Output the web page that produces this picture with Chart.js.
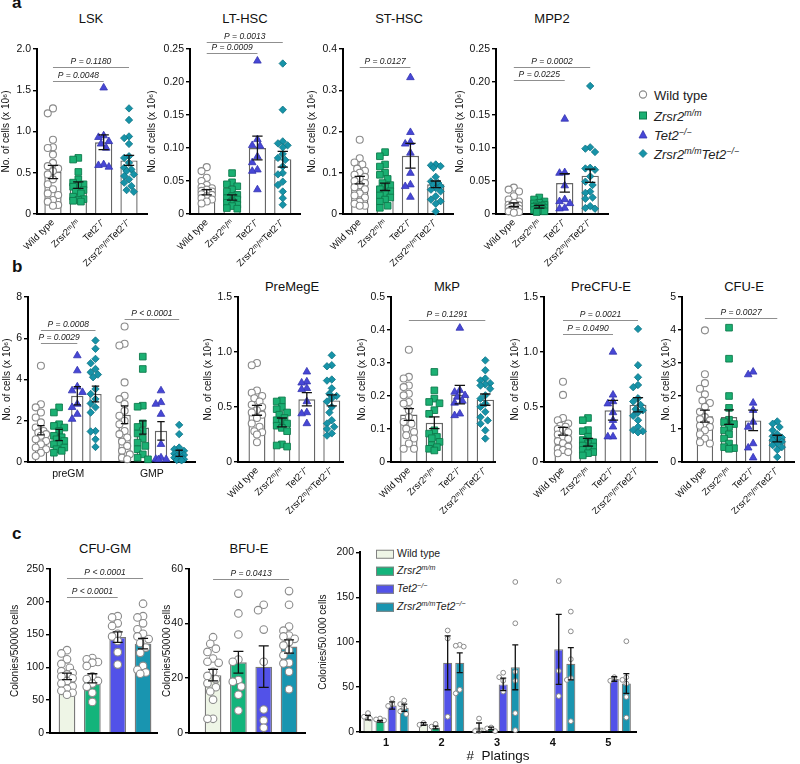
<!DOCTYPE html>
<html>
<head>
<meta charset="utf-8">
<title>Zrsr2 / Tet2 progenitor counts</title>
<script src="https://cdn.jsdelivr.net/npm/chart.js@4.4.1/dist/chart.umd.min.js"></script>
<style>
  html, body { margin: 0; padding: 0; background: #fff; }
  #page { position: relative; width: 800px; height: 764px; overflow: hidden;
          font-family: "Liberation Sans", Arial, sans-serif; color: #111; font-weight: 400; }
  .box { position: absolute; }
  .ttl { position: absolute; font-size: 13px; line-height: 1; white-space: nowrap;
         transform: translate(-50%, -50%); }
  .tag { position: absolute; font-size: 17px; font-weight: bold; line-height: 1; }
  .lg { position: absolute; font-size: 13px; line-height: 1; white-space: nowrap; transform: translateY(-50%);
        font-weight: 400; color: #222; }
  .lg svg { position: absolute; left: -16px; top: 1px; }
  .pl { position: absolute; font-size: 10.5px; line-height: 1; white-space: nowrap; transform: translateY(-50%);
        font-weight: 400; color: #222; }
  .pl span.sw { position: absolute; left: -21px; top: 2px; width: 16px; height: 7px; border: 1px solid #808080; }
  sup { font-size: 68%; line-height: 0; vertical-align: 0.5em; }
</style>
</head>
<body>
<div id="page">
  <div class="tag" style="left:12px;top:-6px">a</div>
  <div class="tag" style="left:12px;top:258px">b</div>
  <div class="tag" style="left:12px;top:525px">c</div>

  <div class="ttl" style="left:91px;top:18px">LSK</div>
  <div class="ttl" style="left:245px;top:18px">LT-HSC</div>
  <div class="ttl" style="left:399px;top:18px">ST-HSC</div>
  <div class="ttl" style="left:552px;top:18px">MPP2</div>

  <div class="ttl" style="left:292px;top:286px">PreMegE</div>
  <div class="ttl" style="left:447px;top:286px">MkP</div>
  <div class="ttl" style="left:601px;top:286px">PreCFU-E</div>
  <div class="ttl" style="left:744px;top:286px">CFU-E</div>

  <div class="ttl" style="left:105px;top:548px">CFU-GM</div>
  <div class="ttl" style="left:249px;top:548px">BFU-E</div>

  <div class="lg" style="left:654px;top:95px"><svg width="10" height="10"><circle cx="5" cy="5" r="3.6" fill="#fff" stroke="#8a8a8a" stroke-width="1.1"/></svg>Wild type</div>
  <div class="lg" style="left:654px;top:116px"><svg width="10" height="10"><rect x="1.5" y="1.5" width="7" height="7" fill="#1bb073" stroke="#0d7a4c"/></svg><i>Zrsr2<sup>m/m</sup></i></div>
  <div class="lg" style="left:654px;top:135px"><svg width="10" height="10"><polygon points="5,1 9,8.5 1,8.5" fill="#4747d6" stroke="#3535b0" stroke-width="0.8"/></svg><i>Tet2<sup>−/−</sup></i></div>
  <div class="lg" style="left:654px;top:154px"><svg width="10" height="10"><polygon points="5,1 9,5 5,9 1,5" fill="#1693a8" stroke="#0f7383" stroke-width="0.8"/></svg><i>Zrsr2<sup>m/m</sup>Tet2<sup>−/−</sup></i></div>

  <div class="pl" style="left:397px;top:553px"><span class="sw" style="background:#eef5e6"></span>Wild type</div>
  <div class="pl" style="left:397px;top:570px"><span class="sw" style="background:#13b47b"></span><i>Zrsr2<sup>m/m</sup></i></div>
  <div class="pl" style="left:397px;top:588px"><span class="sw" style="background:#5252e8"></span><i>Tet2<sup>−/−</sup></i></div>
  <div class="pl" style="left:397px;top:606px"><span class="sw" style="background:#1995b0"></span><i>Zrsr2<sup>m/m</sup>Tet2<sup>−/−</sup></i></div>
</div>

<script>
const FONT = '"Liberation Sans", Arial, sans-serif';

// ---- labels ----
const genotypes = ['Wild type', 'Zrsr2ᵐ/ᵐ', 'Tet2⁻/⁻', 'Zrsr2ᵐ/ᵐTet2⁻/⁻'];
const progenitorGroups = ['preGM', 'GMP'];
const platingLabels = ['1', '2', '3', '4', '5'];
const cellAxisTitle = 'No. of cells (x 10⁶)';
const colonyAxisTitle = 'Colonies/50000 cells';
const platingAxisTitle = 'Colonies/50.000 cells';
const platingXTitle = '#  Platings';

// ---- a: stem / multipotent progenitors (WT, Zrsr2, Tet2, Zrsr2Tet2) ----
const lskMean = [0.51, 0.35, 0.87, 0.65];
const lskSem = [0.08, 0.04, 0.09, 0.06];
const lskPts = [
  [1.28, 1.22, 0.90, 0.81, 0.80, 0.72, 0.62, 0.58, 0.55, 0.52, 0.48, 0.42, 0.36, 0.30, 0.25, 0.23, 0.17, 0.15, 0.11, 0.10],
  [0.68, 0.66, 0.51, 0.42, 0.38, 0.36, 0.34, 0.33, 0.29, 0.27, 0.25, 0.21, 0.18, 0.17, 0.16, 0.15],
  [1.53, 0.95, 0.93, 0.88, 0.85, 0.80, 0.60, 0.59, 0.57],
  [1.28, 1.14, 0.94, 0.92, 0.85, 0.70, 0.68, 0.62, 0.56, 0.54, 0.52, 0.48, 0.46, 0.42, 0.38, 0.34, 0.29, 0.27]
];
const lskP = [['P = 0.0048', 0, 2], ['P = 0.1180', 0, 3]];

const ltMean = [0.033, 0.025, 0.100, 0.083];
const ltSem = [0.004, 0.004, 0.018, 0.012];
const ltPts = [
  [0.071, 0.065, 0.055, 0.050, 0.044, 0.041, 0.039, 0.037, 0.035, 0.034, 0.032, 0.030, 0.029, 0.027, 0.024, 0.022, 0.019, 0.016],
  [0.062, 0.048, 0.045, 0.042, 0.037, 0.034, 0.029, 0.027, 0.024, 0.022, 0.019, 0.017, 0.014, 0.012, 0.009, 0.008],
  [0.232, 0.113, 0.104, 0.103, 0.087, 0.078, 0.067, 0.065, 0.037],
  [0.228, 0.158, 0.110, 0.107, 0.104, 0.101, 0.091, 0.085, 0.082, 0.072, 0.062, 0.060, 0.049, 0.044, 0.034, 0.024, 0.014]
];
const ltP = [['P = 0.0009', 0, 2], ['P = 0.0013', 0, 3]];

const stMean = [0.082, 0.066, 0.141, 0.072];
const stSem = [0.009, 0.009, 0.030, 0.008];
const stPts = [
  [0.18, 0.135, 0.125, 0.12, 0.11, 0.105, 0.10, 0.095, 0.09, 0.085, 0.08, 0.075, 0.07, 0.065, 0.06, 0.05, 0.045, 0.04, 0.03, 0.025, 0.02, 0.02],
  [0.15, 0.14, 0.12, 0.115, 0.10, 0.095, 0.085, 0.075, 0.07, 0.065, 0.06, 0.055, 0.05, 0.045, 0.04, 0.035, 0.03, 0.02, 0.015],
  [0.331, 0.198, 0.174, 0.170, 0.148, 0.099, 0.071, 0.067, 0.041],
  [0.12, 0.118, 0.116, 0.112, 0.09, 0.079, 0.075, 0.071, 0.067, 0.063, 0.059, 0.055, 0.043, 0.035, 0.031, 0.025, 0.006]
];
const stP = [['P = 0.0127', 0, 2]];

const mppMean = [0.014, 0.011, 0.047, 0.058];
const mppSem = [0.003, 0.002, 0.014, 0.010];
const mppPts = [
  [0.040, 0.037, 0.034, 0.027, 0.022, 0.019, 0.017, 0.014, 0.013, 0.012, 0.011, 0.010, 0.009, 0.008, 0.007, 0.006, 0.005, 0.004, 0.003, 0.002],
  [0.025, 0.022, 0.019, 0.017, 0.016, 0.014, 0.013, 0.012, 0.011, 0.010, 0.009, 0.008, 0.007, 0.006, 0.005, 0.004, 0.003],
  [0.144, 0.063, 0.062, 0.043, 0.022, 0.019, 0.016, 0.009, 0.008],
  [0.194, 0.101, 0.099, 0.094, 0.070, 0.069, 0.067, 0.057, 0.049, 0.044, 0.034, 0.032, 0.025, 0.023, 0.012, 0.009, 0.008]
];
const mppP = [['P = 0.0225', 0, 2], ['P = 0.0002', 0, 3]];

// ---- b: committed progenitors ----
const preGmMean = [1.54, 1.31, 3.21, 3.30];
const preGmSem = [0.22, 0.27, 0.44, 0.38];
const preGmPts = [
  [4.67, 2.80, 2.65, 2.40, 2.16, 1.92, 1.67, 1.50, 1.43, 1.35, 1.27, 1.10, 1.02, 0.86, 0.70, 0.62, 0.45, 0.29],
  [2.65, 2.40, 1.83, 1.75, 1.67, 1.50, 1.27, 1.20, 1.10, 1.02, 0.90, 0.86, 0.70, 0.62, 0.54, 0.45],
  [5.16, 4.43, 3.65, 3.46, 3.38, 2.81, 2.65, 2.32, 2.08],
  [5.89, 5.49, 5.00, 4.79, 4.51, 4.35, 4.24, 4.11, 3.54, 3.30, 3.05, 2.84, 2.65, 2.40, 1.50, 1.48, 1.10, 0.73]
];
const gmpMean = [2.29, 1.67, 1.51, 0.42];
const gmpSem = [0.43, 0.32, 0.45, 0.15];
const gmpPts = [
  [6.57, 5.73, 5.65, 3.86, 3.21, 3.05, 2.81, 2.48, 2.24, 2.00, 1.83, 1.50, 1.35, 1.19, 0.99, 0.78, 0.54, 0.37, 0.21, 0.13],
  [5.11, 4.51, 2.73, 2.68, 1.87, 1.70, 1.50, 1.38, 1.14, 0.94, 0.78, 0.62, 0.37, 0.21, 0.13],
  [3.46, 2.89, 2.81, 2.32, 0.86, 0.21, 0.14, 0.13, 0.12],
  [1.80, 1.35, 0.70, 0.62, 0.54, 0.45, 0.40, 0.34, 0.29, 0.24, 0.21, 0.16, 0.13, 0.10, 0.08]
];
const gmP = [['P = 0.0029', 0, 2], ['P = 0.0008', 0, 3], ['P < 0.0001', 4, 7]];

const megMean = [0.47, 0.36, 0.57, 0.56];
const megSem = [0.045, 0.04, 0.06, 0.05];
const megPts = [
  [0.90, 0.88, 0.65, 0.63, 0.60, 0.58, 0.55, 0.52, 0.50, 0.47, 0.45, 0.43, 0.40, 0.35, 0.32, 0.28, 0.27, 0.25, 0.18],
  [0.56, 0.55, 0.50, 0.48, 0.45, 0.43, 0.40, 0.38, 0.36, 0.35, 0.33, 0.31, 0.28, 0.16, 0.15, 0.14],
  [0.82, 0.73, 0.72, 0.67, 0.66, 0.55, 0.45, 0.44, 0.35],
  [0.97, 0.88, 0.87, 0.75, 0.74, 0.67, 0.62, 0.60, 0.58, 0.55, 0.50, 0.45, 0.38, 0.35, 0.32, 0.30, 0.26, 0.24]
];

const mkpMean = [0.144, 0.119, 0.204, 0.189];
const mkpSem = [0.018, 0.018, 0.028, 0.017];
const mkpPts = [
  [0.340, 0.258, 0.253, 0.232, 0.227, 0.207, 0.202, 0.182, 0.177, 0.157, 0.136, 0.121, 0.116, 0.101, 0.091, 0.081, 0.071, 0.056, 0.040, 0.040],
  [0.273, 0.217, 0.192, 0.182, 0.178, 0.157, 0.146, 0.096, 0.086, 0.076, 0.072, 0.061, 0.051, 0.045, 0.040, 0.035],
  [0.406, 0.217, 0.212, 0.202, 0.197, 0.185, 0.179, 0.146, 0.141],
  [0.308, 0.278, 0.253, 0.247, 0.239, 0.235, 0.232, 0.222, 0.202, 0.192, 0.177, 0.167, 0.152, 0.136, 0.126, 0.116, 0.096, 0.071]
];
const mkpP = [['P = 0.1291', 0, 3]];

const preCfuMean = [0.28, 0.18, 0.47, 0.52];
const preCfuSem = [0.035, 0.035, 0.09, 0.065];
const preCfuPts = [
  [0.73, 0.61, 0.40, 0.38, 0.35, 0.33, 0.32, 0.30, 0.29, 0.27, 0.25, 0.23, 0.21, 0.19, 0.17, 0.14, 0.12, 0.11, 0.09, 0.08],
  [0.40, 0.38, 0.29, 0.28, 0.23, 0.20, 0.18, 0.17, 0.15, 0.14, 0.12, 0.11, 0.09, 0.08, 0.06],
  [1.00, 0.61, 0.55, 0.53, 0.45, 0.38, 0.32, 0.23, 0.23],
  [1.21, 0.88, 0.77, 0.70, 0.68, 0.58, 0.55, 0.52, 0.48, 0.47, 0.45, 0.42, 0.38, 0.32, 0.29, 0.28, 0.27]
];
const preCfuP = [['P = 0.0490', 0, 2], ['P = 0.0021', 0, 3]];

const cfuEMean = [1.39, 1.36, 1.26, 0.71];
const cfuESem = [0.18, 0.22, 0.31, 0.10];
const cfuEPts = [
  [3.99, 2.66, 2.39, 2.22, 2.05, 1.86, 1.79, 1.67, 1.52, 1.36, 1.30, 1.26, 1.16, 1.10, 1.06, 0.96, 0.84, 0.71, 0.60, 0.56],
  [4.07, 3.13, 2.00, 1.64, 1.28, 1.21, 1.15, 1.06, 0.96, 0.84, 0.71, 0.56, 0.45, 0.42, 0.40],
  [2.73, 2.65, 1.79, 1.57, 1.21, 1.06, 0.56, 0.43, 0.13],
  [1.23, 1.16, 1.06, 0.96, 0.84, 0.78, 0.74, 0.71, 0.66, 0.61, 0.56, 0.51, 0.45, 0.37, 0.15]
];
const cfuEP = [['P = 0.0027', 0, 3]];

// ---- c: colony assays ----
const cfuGmMean = [86, 83, 146, 136];
const cfuGmSem = [5, 7, 8, 8];
const cfuGmPts = [
  [126, 121, 112, 105, 99, 94, 91, 89, 86, 83, 79, 75, 71, 67, 64, 61, 58],
  [114, 112, 108, 107, 102, 86, 82, 79, 75, 70, 61, 47],
  [178, 176, 167, 163, 151, 147, 140, 123, 104],
  [197, 178, 176, 167, 158, 151, 147, 143, 137, 130, 122, 102, 96, 92, 90]
];
const cfuGmP = [['P < 0.0001', 0, 2], ['P < 0.0001', 0, 3]];

const bfuMean = [21.1, 25.8, 24.2, 31.6];
const bfuSem = [2.1, 4.0, 7.6, 2.4];
const bfuPts = [
  [35, 32.6, 30.8, 29.6, 27.2, 26, 25.6, 22.3, 20.8, 19.6, 18.1, 16.7, 15.1, 12.1, 5.1, 5.1],
  [51, 43.7, 36, 26.8, 26, 19.3, 18.7, 16.9, 13.9, 8.1],
  [46.9, 44.9, 37.8, 26, 8.5, 4.5, 1.8],
  [51.9, 46.9, 38.9, 37.4, 35.6, 35.3, 34.4, 33.2, 32, 30.2, 28.4, 25.6, 25.4, 22.3, 15.9]
];
const bfuP = [['P = 0.0413', 0, 3]];

// serial replating, rows = genotype, columns = plating 1..5
const platMean = [
  [16, 9, 5, null, null],
  [12, 5, 4, null, null],
  [29.5, 77, 53, 92, 59],
  [27, 77, 72, 76, 54]
];
const platSem = [
  [2.5, 1.5, 5, null, null],
  [1, 1.5, 1.5, null, null],
  [4, 30, 7, 39, 2.5],
  [4, 11, 25, 18, 11]
];
const platPts = [
  [[21, 17, 15], [10, 8], [15, 1, 1], [], []],
  [[15, 14, 13], [9, 6], [5, 4, 1], [], []],
  [[37, 31, 29], [113, 104, 17], [66, 61, 57, 45], [168, 68, 40], [61, 57]],
  [[35, 31, 27, 23, 20], [97, 96, 95, 47, 43], [167, 121, 67, 57, 21, 2], [134, 112, 81, 60, 58, 12], [101, 61, 58, 54, 39, 16]]
];

// ---- styles ----
const cellDots = [
  { shape: 'circle', r: 3.5, d: 6.5, bg: '#ffffff', bc: '#8a8a8a', bw: 1.1 },
  { shape: 'rect', r: 4.7, d: 6.5, bg: '#1bb073', bc: '#0d7a4c', bw: 0.9 },
  { shape: 'triangle', r: 4.4, d: 6.5, bg: '#4747d6', bc: '#3535b0', bw: 0.8 },
  { shape: 'rectRot', r: 3.7, d: 6, bg: '#1693a8', bc: '#0f7383', bw: 0.8 }
];
const openDot = { shape: 'circle', r: 3.8, d: 7, bg: '#ffffff', bc: '#8a8a8a', bw: 1.1 };
const colonyDots = [openDot, openDot, openDot, openDot];
const whiteFills = ['#ffffff', '#ffffff', '#ffffff', '#ffffff'];
const colonyFills = ['#eef5e6', '#13b47b', '#5252e8', '#1995b0'];

Chart.defaults.font.family = FONT;
Chart.defaults.color = '#111';
const page = document.getElementById('page');

// error bars (mean ± SEM) on top of every bar dataset
const errorBars = {
  id: 'errorBars',
  afterDatasetsDraw(chart) {
    const ctx = chart.ctx, ys = chart.scales.y;
    chart.data.datasets.forEach((ds, di) => {
      if (!ds.errors) return;
      chart.getDatasetMeta(di).data.forEach((bar, i) => {
        const m = ds.data[i].y, e = ds.errors[i];
        if (m == null || e == null) return;
        const hi = ys.getPixelForValue(m + e);
        const lo = ys.getPixelForValue(Math.max(m - e, 0));
        const cap = Math.max(bar.width * 0.3, 3);
        ctx.save();
        ctx.strokeStyle = '#111';
        ctx.lineWidth = 1.3;
        ctx.beginPath();
        ctx.moveTo(bar.x, hi); ctx.lineTo(bar.x, lo);
        ctx.moveTo(bar.x - cap, hi); ctx.lineTo(bar.x + cap, hi);
        ctx.moveTo(bar.x - cap, lo); ctx.lineTo(bar.x + cap, lo);
        ctx.stroke();
        ctx.restore();
      });
    });
  }
};

// significance lines with italic P values
function brackets(items) {
  return {
    id: 'pBrackets',
    afterDraw(chart) {
      const ctx = chart.ctx, xs = chart.scales.x, ys = chart.scales.y;
      items.forEach(it => {
        const x1 = xs.getPixelForValue(it.from), x2 = xs.getPixelForValue(it.to);
        const y = Math.round(ys.getPixelForValue(it.level)) + 0.5;
        ctx.save();
        ctx.strokeStyle = '#8f8f8f';
        ctx.lineWidth = 1.1;
        ctx.beginPath(); ctx.moveTo(x1, y); ctx.lineTo(x2, y); ctx.stroke();
        ctx.fillStyle = '#222';
        ctx.font = 'italic 8.5px ' + FONT;
        ctx.textAlign = 'center';
        ctx.textBaseline = 'bottom';
        ctx.fillText(it.text, (x1 + x2) / 2, y - 1.5);
        ctx.restore();
      });
    }
  };
}

// simple beeswarm: spread overlapping dots sideways (pixel offsets)
function swarm(vals, pxPerY, diam, spread) {
  const steps = [0];
  for (let k = 1; k * diam * 0.4 <= spread; k++) steps.push(-k * diam * 0.4, k * diam * 0.4);
  const placed = [];
  const out = new Array(vals.length).fill(0);
  vals.map((v, i) => i).sort((a, b) => vals[b] - vals[a]).forEach(i => {
    const py = vals[i] * pxPerY;
    let best = 0, bestGap = -1;
    for (const s of steps) {
      let gap = Infinity;
      placed.forEach(p => { gap = Math.min(gap, Math.hypot(p[0] - s, p[1] - py)); });
      if (gap >= diam) { best = s; break; }
      if (gap > bestGap) { bestGap = gap; best = s; }
    }
    out[i] = best;
    placed.push([best, py]);
  });
  return out;
}

function barItems(mean, sem, pts, xs) {
  return mean.map((m, i) => ({ x: xs[i], mean: m, sem: sem[i], pts: pts[i], g: i % 4 }));
}

function itemSets(o, pxX, pxY) {
  const sets = [{
    type: 'bar', order: 3,
    data: o.items.map(it => ({ x: it.x, y: it.mean })),
    errors: o.items.map(it => it.sem),
    backgroundColor: o.items.map(it => o.fills[it.g]),
    borderColor: o.edge, borderWidth: 1.4,
    categoryPercentage: 1, barPercentage: o.barPct
  }];
  o.dots.forEach((st, g) => {
    const data = [];
    o.items.filter(it => it.g === g).forEach(it => {
      const offs = swarm(it.pts, pxY, st.d, o.spread);
      it.pts.forEach((v, k) => data.push({ x: it.x + offs[k] / pxX, y: v }));
    });
    sets.push({
      type: 'scatter', order: 2, clip: false, data,
      pointStyle: st.shape, pointRadius: st.r, pointHoverRadius: st.r,
      backgroundColor: st.bg, borderColor: st.bc, borderWidth: st.bw
    });
  });
  return sets;
}

function platingSets(o, pxX, pxY) {
  const sets = platMean.map((row, g) => ({
    type: 'bar', order: 3,
    data: row.map((v, p) => ({ x: p, y: v })),
    errors: platSem[g],
    backgroundColor: colonyFills[g], borderColor: '#7a7a7a', borderWidth: 1.2,
    categoryPercentage: o.catPct, barPercentage: o.barPct
  }));
  const data = [];
  platPts.forEach((row, g) => row.forEach((vals, p) => {
    const offs = swarm(vals, pxY, 5, o.spread);
    const cx = p + (g - 1.5) * o.catPct / 4;
    vals.forEach((v, k) => data.push({ x: cx + offs[k] / pxX, y: v }));
  }));
  sets.push({
    type: 'scatter', order: 1, clip: false, data,
    pointStyle: 'circle', pointRadius: 2.4, pointHoverRadius: 2.4,
    backgroundColor: '#ffffff', borderColor: '#8a8a8a', borderWidth: 1
  });
  return sets;
}

function makePanel(o) {
  const { l, t, r, b } = o.plot;
  const w = r - l + o.yw + o.pr, h = b - t + o.pt + o.xh;
  const box = document.createElement('div');
  box.className = 'box';
  box.style.left = (l - o.yw) + 'px';
  box.style.top = (t - o.pt) + 'px';
  const cv = document.createElement('canvas');
  cv.width = w; cv.height = h;
  cv.style.width = w + 'px'; cv.style.height = h + 'px';
  box.appendChild(cv);
  page.appendChild(box);

  const pxX = (r - l) / (o.xmax - o.xmin);
  const pxY = (b - t) / o.ymax;
  const datasets = o.build(o, pxX, pxY);
  const bItems = (o.p || []).map((p, k) => ({
    text: p[0],
    from: o.items[p[1]].x, to: o.items[p[2]].x,
    level: o.pY[k]
  }));
  const nY = Math.round(o.ymax / o.step);

  new Chart(cv, {
    type: 'bar',
    data: { datasets },
    options: {
      responsive: false,
      animation: false,
      events: [],
      layout: { padding: { top: o.pt, right: o.pr, left: 0, bottom: 0 } },
      plugins: { legend: { display: false }, tooltip: { enabled: false } },
      scales: {
        x: {
          type: 'linear', min: o.xmin, max: o.xmax, offset: false,
          grid: { display: false, drawTicks: false },
          border: { color: '#000', width: 2 },
          afterBuildTicks: s => { s.ticks = o.tickPos.map(v => ({ value: v })); },
          afterFit: s => { s.height = o.xh; },
          ticks: {
            display: o.tickPos.length > 0, autoSkip: false,
            minRotation: o.rot, maxRotation: o.rot, padding: o.tickPad,
            color: '#111', font: o.xFont,
            callback: (v, i) => o.tickLabels[i]
          },
          title: o.xTitle
            ? { display: true, text: o.xTitle, color: '#111', font: { size: 13.5 }, padding: 0 }
            : { display: false }
        },
        y: {
          type: 'linear', min: 0, max: o.ymax,
          afterBuildTicks: s => {
            s.ticks = Array.from({ length: nY + 1 }, (_, k) => ({ value: +(k * o.step).toFixed(6) }));
          },
          afterFit: s => { s.width = o.yw; },
          ticks: {
            padding: 2, color: '#111', font: { size: 10.5 },
            callback: v => (v === 0 ? '0' : v.toFixed(o.dec))
          },
          grid: { drawOnChartArea: false, drawTicks: true, tickLength: 4, color: '#000', lineWidth: 1.4 },
          border: { color: '#000', width: 2 },
          title: { display: true, text: o.yTitle, color: '#111', font: { size: 10 }, padding: 0 }
        }
      }
    },
    plugins: [errorBars, brackets(bItems)]
  });
}

const X4 = [0, 1, 2, 3];
const X8 = [0, 1, 2, 3, 4.6, 5.6, 6.6, 7.6];

const cellPanel = {
  build: itemSets, fills: whiteFills, edge: '#666666', dots: cellDots,
  barPct: 0.68, spread: 6.5, rot: 45, tickPad: 3, xFont: { size: 9.5 },
  tickPos: X4, tickLabels: genotypes, yTitle: cellAxisTitle, pr: 14
};
const rowA = Object.assign({}, cellPanel, { pt: 26, xh: 56 });
const rowB = Object.assign({}, cellPanel, { pt: 10, xh: 52 });
const rowC = {
  build: itemSets, fills: colonyFills, edge: '#7a7a7a', dots: colonyDots,
  barPct: 0.66, spread: 8, rot: 0, tickPad: 0, xFont: { size: 10 },
  tickPos: [], tickLabels: [], yTitle: colonyAxisTitle, pr: 14, pt: 14, xh: 8
};

// row a
makePanel(Object.assign({}, rowA, {
  plot: { l: 37, t: 49, r: 147, b: 214 }, yw: 37, xmin: -0.63, xmax: 3.71,
  ymax: 2, step: 0.5, dec: 1, items: barItems(lskMean, lskSem, lskPts, X4), p: lskP, pY: [1.61, 1.78]
}));
makePanel(Object.assign({}, rowA, {
  plot: { l: 190, t: 49, r: 300, b: 214 }, yw: 44, xmin: -0.66, xmax: 3.68,
  ymax: 0.25, step: 0.05, dec: 2, items: barItems(ltMean, ltSem, ltPts, X4), p: ltP, pY: [0.244, 0.261]
}));
makePanel(Object.assign({}, rowA, {
  plot: { l: 343, t: 49, r: 453, b: 214 }, yw: 37, xmin: -0.66, xmax: 3.68,
  ymax: 0.4, step: 0.1, dec: 1, items: barItems(stMean, stSem, stPts, X4), p: stP, pY: [0.356]
}));
makePanel(Object.assign({}, rowA, {
  plot: { l: 496, t: 49, r: 608, b: 214 }, yw: 42, xmin: -0.7, xmax: 3.7,
  ymax: 0.25, step: 0.05, dec: 2, items: barItems(mppMean, mppSem, mppPts, X4), p: mppP, pY: [0.203, 0.223]
}));

// row b
makePanel(Object.assign({}, rowB, {
  plot: { l: 28, t: 297, r: 195, b: 462 }, yw: 27, xmin: -0.71, xmax: 8.47,
  ymax: 8, step: 2, dec: 0,
  items: barItems(preGmMean.concat(gmpMean), preGmSem.concat(gmpSem), preGmPts.concat(gmpPts), X8),
  p: gmP, pY: [5.76, 6.41, 6.95],
  rot: 0, tickPad: 6, xFont: { size: 10.5 }, tickPos: [1.5, 6.1], tickLabels: progenitorGroups, spread: 6
}));
makePanel(Object.assign({}, rowB, {
  plot: { l: 238, t: 297, r: 343, b: 462 }, yw: 36, xmin: -0.76, xmax: 3.45,
  ymax: 1.5, step: 0.5, dec: 1, items: barItems(megMean, megSem, megPts, X4), p: [], pY: []
}));
makePanel(Object.assign({}, rowB, {
  plot: { l: 391, t: 297, r: 495, b: 462 }, yw: 35, xmin: -0.7, xmax: 3.38,
  ymax: 0.5, step: 0.1, dec: 1, items: barItems(mkpMean, mkpSem, mkpPts, X4), p: mkpP, pY: [0.431]
}));
makePanel(Object.assign({}, rowB, {
  plot: { l: 544, t: 297, r: 657, b: 462 }, yw: 35, xmin: -0.76, xmax: 3.76,
  ymax: 1.5, step: 0.5, dec: 1, items: barItems(preCfuMean, preCfuSem, preCfuPts, X4), p: preCfuP, pY: [1.16, 1.29]
}));
makePanel(Object.assign({}, rowB, {
  plot: { l: 682, t: 297, r: 800, b: 462 }, yw: 22, pr: 0, xmin: -0.95, xmax: 3.71,
  ymax: 5, step: 1, dec: 0, items: barItems(cfuEMean, cfuESem, cfuEPts, X4), p: cfuEP, pY: [4.36]
}));

// row c
makePanel(Object.assign({}, rowC, {
  plot: { l: 50, t: 569, r: 157, b: 733 }, yw: 41, xmin: -0.67, xmax: 3.55,
  ymax: 250, step: 50, dec: 0, items: barItems(cfuGmMean, cfuGmSem, cfuGmPts, X4), p: cfuGmP, pY: [208, 236]
}));
makePanel(Object.assign({}, rowC, {
  plot: { l: 189, t: 569, r: 305, b: 733 }, yw: 28, xmin: -0.95, xmax: 3.63,
  ymax: 60, step: 20, dec: 0, items: barItems(bfuMean, bfuSem, bfuPts, X4), p: bfuP, pY: [56.4]
}));
makePanel({
  build: platingSets, catPct: 0.87, barPct: 0.75, spread: 4,
  plot: { l: 360, t: 552, r: 636, b: 732 }, yw: 43, pr: 14, pt: 8, xh: 32,
  xmin: -0.47, xmax: 4.5, ymax: 200, step: 50, dec: 0,
  items: [], p: [], pY: [],
  rot: 0, tickPad: 4, xFont: { size: 11, weight: 'bold' },
  tickPos: [0, 1, 2, 3, 4], tickLabels: platingLabels,
  yTitle: platingAxisTitle, xTitle: platingXTitle
});
</script>
</body>
</html>
